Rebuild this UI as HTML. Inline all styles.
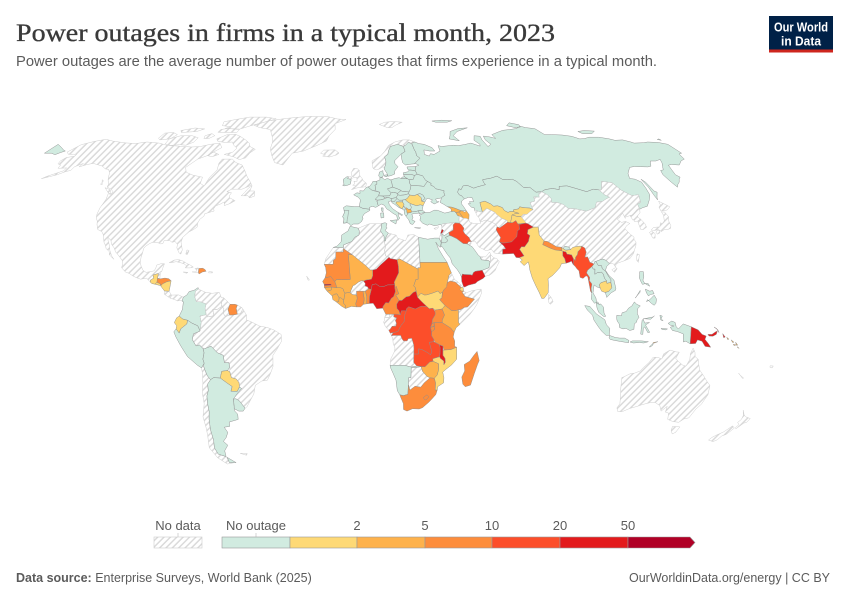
<!DOCTYPE html>
<html><head><meta charset="utf-8"><style>
html,body{margin:0;padding:0;background:#fff;}
svg{display:block;}
</style></head><body>
<svg id="svg" width="850" height="600" viewBox="0 0 850 600" xmlns="http://www.w3.org/2000/svg">
<defs>
<pattern id="h" width="4.5" height="4.5" patternUnits="userSpaceOnUse" patternTransform="rotate(45)">
<rect width="4.5" height="4.5" fill="#fff"/>
<line x1="0.8" y1="0" x2="0.8" y2="4.5" stroke="#d8d8d8" stroke-width="1.4"/>
</pattern>
</defs>
<rect width="850" height="600" fill="#fff"/>
<text x="16" y="41" font-family="Liberation Serif, serif" font-size="25" fill="#3a3a3a" stroke="#3a3a3a" stroke-width="0.35" textLength="539" lengthAdjust="spacingAndGlyphs">Power outages in firms in a typical month, 2023</text>
<text x="16" y="66" font-family="Liberation Sans, sans-serif" font-size="14.5" fill="#5b5b5b" textLength="641" lengthAdjust="spacingAndGlyphs">Power outages are the average number of power outages that firms experience in a typical month.</text>
<rect x="769" y="16" width="64" height="34" fill="#002147"/>
<rect x="769" y="49.5" width="64" height="3" fill="#ce261e"/>
<text x="801" y="31.5" text-anchor="middle" font-family="Liberation Sans, sans-serif" font-size="13" font-weight="bold" fill="#fff" textLength="54" lengthAdjust="spacingAndGlyphs">Our World</text>
<text x="801" y="45.5" text-anchor="middle" font-family="Liberation Sans, sans-serif" font-size="13" font-weight="bold" fill="#fff" textLength="40" lengthAdjust="spacingAndGlyphs">in Data</text>
<g id="map"></g>
<!-- legend -->
<g font-family="Liberation Sans, sans-serif" font-size="13" fill="#5b5b5b" text-anchor="middle">
<text x="178" y="530">No data</text>
<text x="256" y="530">No outage</text>
<text x="357" y="530">2</text>
<text x="425" y="530">5</text>
<text x="492" y="530">10</text>
<text x="560" y="530">20</text>
<text x="628" y="530">50</text>
</g>
<line x1="178" y1="533" x2="178" y2="537" stroke="#ccc" stroke-width="0.8"/>
<line x1="256" y1="533" x2="256" y2="537" stroke="#ccc" stroke-width="0.8"/>
<rect x="154" y="537" width="48" height="11" fill="url(#h)" stroke="#ccc" stroke-width="0.6"/>
<g stroke="#999" stroke-width="0.6">
<rect x="222" y="537" width="68" height="11" fill="#d1ebe0"/>
<rect x="290" y="537" width="67" height="11" fill="#fed976"/>
<rect x="357" y="537" width="68" height="11" fill="#feb24c"/>
<rect x="425" y="537" width="67" height="11" fill="#fd8d3c"/>
<rect x="492" y="537" width="68" height="11" fill="#fc4e2a"/>
<rect x="560" y="537" width="68" height="11" fill="#e31a1c"/>
<polygon points="628,537 690,537 695,542.5 690,548 628,548" fill="#b10026"/>
</g>
<text x="16" y="582" font-family="Liberation Sans, sans-serif" font-size="12.5" fill="#5b5b5b"><tspan font-weight="bold">Data source:</tspan> Enterprise Surveys, World Bank (2025)</text>
<text x="830" y="582" text-anchor="end" font-family="Liberation Sans, sans-serif" font-size="12.5" fill="#5b5b5b">OurWorldinData.org/energy | CC BY</text>
</svg>
<script>
(function(){
var T=[[1,0],[.9986,.062],[.9954,.124],[.99,.186],[.9822,.248],[.973,.31],[.96,.372],[.9427,.434],[.9216,.4958],[.8962,.5571],[.8679,.6176],[.835,.6769],[.7986,.7346],[.7597,.7903],[.7186,.8435],[.6732,.8936],[.6213,.9394],[.5722,.9761],[.5322,1]];
function P(lon,lat){var a=Math.abs(lat);var i=Math.min(Math.floor(a/5),17);var f=(a-i*5)/5;
var X=T[i][0]+(T[i+1][0]-T[i][0])*f,Y=T[i][1]+(T[i+1][1]-T[i][1])*f;
return [363+2.33*X*lon,320-(lat<0?-1:1)*211*Y];}
var G='#d1ebe0',Y1='#fed976',Y2='#feb24c',O='#fd8d3c',R1='#fc4e2a',R2='#e31a1c',R3='#b10026',H='H';
var D=[
// North America (no data)
[H,[[[-168,65.5],[-166,68.8],[-161,70.3],[-156,71.3],[-150,70.4],[-141,69.6],[-135,69.3],[-129,70],[-121,69.5],[-115,68.5],[-108,68.2],[-100,67.8],[-95,68],[-90,69],[-85,69.5],[-82,67.5],[-85,65.5],[-87,64],[-91,62.5],[-94.5,59],[-92.5,57],[-88,55.8],[-82.5,55],[-82,52.5],[-79.5,51.5],[-78.8,55],[-77,58],[-78,60.8],[-77.5,62.5],[-72,62.5],[-69,61],[-65,60],[-62,57.5],[-60,55.5],[-57,53],[-55.8,51.8],[-57,51.4],[-60,50.2],[-65,50.2],[-67,49.3],[-64.5,48.8],[-65,47.8],[-64.8,46.9],[-61.5,45.7],[-63.5,44.6],[-66,43.8],[-66.5,45.2],[-68,44.4],[-70,43.7],[-70.6,42.6],[-70,41.7],[-71.5,41.3],[-74,40.6],[-74,39.7],[-75.5,38.5],[-76,37],[-75.7,35.5],[-77,34.6],[-78.8,33.7],[-81,31.7],[-81.3,29.8],[-80.1,26.8],[-80.4,25.2],[-81.3,25.7],[-82.7,27.6],[-82.7,28.9],[-84,30],[-85.3,29.7],[-86.5,30.4],[-89,30.4],[-89.3,29.2],[-90.2,29.1],[-91.5,29.5],[-93.8,29.7],[-95,29.3],[-96.6,28.3],[-97.4,27.3],[-97.4,25.8],[-97.7,24],[-97.7,22],[-97,20.5],[-96,19],[-94.5,18.2],[-92,18.6],[-91,18.8],[-90.5,20],[-90.3,21],[-88.5,21.5],[-87,21.5],[-87.5,19.8],[-87.8,18.4],[-88.3,18.5],[-89.1,17.8],[-91.4,17.2],[-90.9,16],[-92.2,15.2],[-92.2,14.5],[-94,16],[-96.5,15.6],[-98.5,16.2],[-100,16.8],[-101.8,17.8],[-103.5,18.3],[-105.5,20],[-105.3,21.5],[-105.7,22.7],[-106.9,23.9],[-108.5,25.3],[-109.4,26],[-110.5,27.5],[-112.2,29],[-112.8,30.3],[-114.7,31.7],[-114.2,30.5],[-113.1,28.8],[-112.1,26.5],[-110.6,24.3],[-109.5,23.2],[-110.1,23.6],[-111.9,25],[-112.3,26.2],[-114,27.3],[-114.6,28.4],[-115.7,29.7],[-116.7,31.6],[-117.1,32.5],[-118.4,33.8],[-120.6,34.6],[-121.9,36.5],[-122.5,37.8],[-123.7,39],[-124.2,40.5],[-124.5,42.8],[-124,46.2],[-124.7,48.4],[-123,48.2],[-123,49.2],[-125,50.3],[-127.5,51],[-128,52.2],[-130,54],[-131,55.2],[-132.3,56.8],[-134.5,58.2],[-136.5,58.4],[-139.7,59.6],[-142.5,60.1],[-146,60.7],[-148.5,60.2],[-151.5,59.2],[-151.3,60.7],[-154,59.3],[-154,57.8],[-156,57.3],[-158.5,56],[-161.5,55.2],[-164.5,54.4],[-163,55.3],[-160,56.6],[-157.5,57.6],[-157.5,58.8],[-160.5,58.7],[-162,58.7],[-162.5,60],[-164.7,60.5],[-165.4,61.7],[-165,62.6],[-164.5,63.2],[-161,63.7],[-161,64.5],[-163,64.6],[-165.5,64.5]],
 [[-80,73.7],[-76,72.7],[-71,71],[-67.5,69.5],[-66,68],[-62,66.7],[-64,65.2],[-65,63],[-68,62.3],[-72,63.5],[-78,64.5],[-74,65.5],[-73,67.3],[-76,68.6],[-78,70],[-82,69.8],[-87,70.3],[-89,71.5],[-85,73.4]],
 [[-118,71.5],[-113,73],[-106,73],[-101,72],[-101,70],[-104,68.6],[-108,68.8],[-113,68.5],[-117,69.2]],
 [[-125,71.8],[-125,74.2],[-120,74.5],[-116,73.5],[-117.5,71.5],[-123,71]],
 [[-90,76.5],[-80,76.2],[-75,78],[-72,78.8],[-65,80.5],[-62,82],[-70,83],[-82,83],[-90,81.5],[-96,80],[-94,78],[-88,77.5]],
 [[-92,74.6],[-84,74.5],[-80,74.5],[-80,76],[-88,76.6],[-92,76]],
 [[-98,73],[-95,74],[-92,73],[-94,71.7],[-97,71.6]],
 [[-117,75.5],[-110,76.8],[-103,76.3],[-106,75],[-115,74.5]],
 [[-87,64],[-85,65.5],[-81,64.5],[-84,63.5]],
 [[-59.3,47.6],[-58,49],[-57,50.5],[-55.5,51.6],[-55.8,49.5],[-53.5,49.5],[-52.8,47.5],[-55,46.8],[-56,47.6]],
 [[-128.3,50.8],[-125,50],[-123.3,48.4],[-125,48.8]],
 [[-133,54],[-131.8,53.5],[-132,52.2],[-131,52]]
]],
// Greenland
[H,[[[-73,78.2],[-66,80.5],[-55,82.2],[-40,83.5],[-25,83.2],[-18,81.8],[-12,81.5],[-19,79],[-18,76],[-21,73],[-22,70.5],[-27,68.5],[-34,66],[-40,65],[-43,60],[-48,61],[-51,64],[-53.5,67],[-54,70],[-56,72.5],[-60,76],[-68,77]]]],
// Iceland, Svalbard
[H,[[[-22.5,63.8],[-21,64.3],[-24,65],[-22.5,66.4],[-16,66.5],[-13.6,65.1],[-14.8,64.3],[-18.7,63.4]],
 [[11,78.6],[15,79.8],[21,80.2],[27,79.8],[22,78.3],[19,77],[16,77],[13,78]]]],
// Caribbean no data
[H,[[[-85,21.9],[-83,22.9],[-81,23.1],[-79,22.5],[-77.2,21.6],[-75.6,21],[-74.2,20.2],[-75.5,19.9],[-77.7,19.9],[-77.2,20.7],[-78.5,21.5],[-80.5,22],[-82,22.3],[-83.5,22]],
 [[-74.5,18.4],[-72.8,18.4],[-72.7,19.2],[-73.4,19.7],[-72,19.9],[-71.7,19.7],[-71.7,18.2],[-72,18.1]],
 [[-78.3,18.4],[-76.3,18.2],[-76.8,17.9],[-78.2,18.2]],
 [[-67.2,18.5],[-65.6,18.4],[-65.6,18],[-67.2,18]],
 [[-78,26.8],[-77,26.5],[-77.5,25],[-78.2,25.2]],
 [[-89.1,17.8],[-88.3,18.5],[-88.2,16],[-89.2,15.9]],
 [[-85.7,11.1],[-83.7,11],[-82.6,9.5],[-83,8.3],[-85.7,9.9]],
 [[-82.9,8.3],[-82.6,9.5],[-79.5,9.6],[-77.4,8.7],[-77.2,7.9],[-78,7.5],[-80,7.3],[-81,7.8]]]],
[O,[[[-71.7,19.7],[-70,19.8],[-69,19.3],[-68.4,18.6],[-69.9,18.4],[-71.4,17.6],[-71.7,18.2]]]],
[Y1,[[[-92.2,14.5],[-92.2,15.2],[-90.9,16],[-91.4,17.2],[-89.1,17.8],[-89.2,15.9],[-88.2,15.7],[-89.3,14.4],[-90.1,13.7],[-91.4,13.9]]]],
[O,[[[-89.2,15.9],[-88.2,15.7],[-86,16],[-84.3,15.8],[-83.2,15],[-85,14.6],[-86.8,13.8],[-87.5,13],[-87.7,13.8],[-89.3,14.4]]]],
[Y1,[[[-89.3,14.4],[-87.7,13.8],[-87.8,13.2],[-90.1,13.7]]]],
[Y1,[[[-87.5,13],[-86.8,13.8],[-85,14.6],[-83.2,15],[-83.5,12.5],[-83.7,11],[-85.7,11.1]]]],
// South America
[G,[[[-77.4,8.7],[-76,9.5],[-75,10.9],[-73,11.3],[-71.3,12.4],[-71.1,11.8],[-72.3,11],[-72.5,9],[-71.7,7],[-70,7],[-67.5,6.2],[-67.8,4.5],[-67.3,2],[-70,1.5],[-69.4,-0.9],[-70,-4.2],[-71,-2.2],[-73.5,-1.2],[-75.3,-0.1],[-77.4,0.4],[-78.9,1.5],[-77.6,4],[-77.3,7],[-77.9,7.2]]]],
[H,[[[-71.1,11.8],[-68,10.6],[-65,10.2],[-62,10.6],[-61,8.5],[-60,8.5],[-60.7,7.5],[-61,5.9],[-60.7,5.2],[-62.7,4],[-64.6,4.1],[-64,1.6],[-66.8,1.2],[-67.3,2],[-67.8,4.5],[-67.5,6.2],[-70,7],[-71.7,7],[-72.5,9],[-72.3,11]],
 [[-60,8.5],[-58,6.8],[-57.2,6],[-58,4],[-57.3,1.9],[-59,1.3],[-60,2.5],[-59.8,4.3],[-61,5.9],[-60.7,7.5]],
 [[-54,5.7],[-52,4.7],[-51.6,4.2],[-52.7,2.4],[-54,2.2],[-54.5,4.5]],
 [[-51.6,4.2],[-50,1.8],[-50,0],[-48,-0.7],[-44.5,-2.3],[-41,-2.9],[-38.5,-3.7],[-35.2,-5.5],[-35,-8],[-37,-11],[-39,-13.5],[-39.2,-17.8],[-40.5,-20.5],[-42,-23],[-44.5,-23.3],[-47.5,-25],[-48.6,-28.3],[-50.7,-31],[-52.5,-33.2],[-53.4,-33.7],[-55.5,-30.9],[-56.8,-30.1],[-58,-30.2],[-55.8,-28],[-53.7,-26.2],[-54.6,-25.6],[-54.6,-23.9],[-55.7,-22.5],[-57.7,-22],[-58.2,-19.8],[-58,-18],[-58.3,-16.3],[-60.2,-16.3],[-60.5,-13.5],[-63,-12.5],[-65.5,-10],[-68.5,-11],[-70.5,-9.5],[-72,-9.9],[-73.5,-7.5],[-72.9,-5.3],[-70,-4.2],[-69.4,-0.9],[-70,1.5],[-67.3,2],[-66.8,1.2],[-64,1.6],[-64.6,4.1],[-62.7,4],[-60.7,5.2],[-59.8,4.3],[-60,2.5],[-59,1.3],[-57.3,1.9],[-56,1.9],[-54,2.2],[-52.7,2.4]],
 [[-70.4,-18.3],[-69.4,-17.5],[-69,-19],[-68.2,-21.3],[-67,-22.8],[-68.5,-24.5],[-68.6,-27],[-69.6,-29],[-70,-32],[-70,-35],[-71,-38],[-71.8,-42],[-72,-46],[-73,-49],[-72.4,-51.5],[-69,-52.5],[-68.6,-54.8],[-66.5,-55],[-70,-55.5],[-73.5,-53],[-75.5,-49],[-74,-44],[-73.5,-41],[-73.5,-37],[-71.5,-32],[-71.4,-28],[-70.5,-24],[-70.2,-20]],
 [[-61.3,-51.2],[-57.8,-51.3],[-58.5,-52]]]],
[O,[[[-57.2,6],[-55,6],[-54,5.7],[-54.5,4.5],[-54,2.2],[-56,1.9],[-57.3,1.9],[-58,4]]]],
[Y1,[[[-78.9,1.5],[-77.4,0.4],[-75.3,-0.1],[-75.6,-1.5],[-78.3,-3.4],[-79,-5],[-80.3,-3.4],[-80,-2.2],[-81,-1],[-80,0.8]]]],
[G,[[[-75.3,-0.1],[-73.5,-1.2],[-71,-2.2],[-70,-4.2],[-72.9,-5.3],[-73.5,-7.5],[-72,-9.9],[-70.5,-9.5],[-69,-11],[-68.7,-12.5],[-69.4,-15],[-69,-16.5],[-70.4,-18.3],[-72,-17.3],[-76,-14],[-78.5,-10],[-80.5,-6.5],[-81.3,-4.5],[-80.3,-3.4],[-79,-5],[-78.3,-3.4],[-75.6,-1.5]]]],
[G,[[[-69,-11],[-68.5,-11],[-65.5,-10],[-63,-12.5],[-60.5,-13.5],[-60.2,-16.3],[-58.3,-16.3],[-58,-18],[-59.1,-19.3],[-61.7,-19.6],[-62.6,-22.2],[-65.5,-22],[-67,-22.8],[-68.2,-21.3],[-69,-19],[-69.4,-17.5],[-69,-16.5],[-69.4,-15],[-68.7,-12.5]]]],
[Y1,[[[-59.1,-19.3],[-58.2,-19.8],[-57.7,-22],[-55.7,-22.5],[-54.6,-23.9],[-54.6,-25.6],[-55.8,-27.3],[-58.6,-27.2],[-57.8,-25.4],[-60,-24],[-62.6,-22.2],[-61.7,-19.6]]]],
[G,[[[-65.5,-22],[-62.6,-22.2],[-60,-24],[-57.8,-25.4],[-58.6,-27.2],[-55.8,-27.3],[-54.6,-25.6],[-53.7,-26.2],[-55.8,-28],[-58,-30.2],[-58.2,-33],[-58.5,-34.6],[-57.3,-36],[-57.6,-38],[-62,-39],[-62.3,-40.7],[-65,-41],[-64,-43],[-65.5,-45],[-67.5,-46.5],[-66,-48],[-68.5,-50.2],[-69,-52.5],[-72.4,-51.5],[-73,-49],[-72,-46],[-71.8,-42],[-71,-38],[-70,-35],[-70,-32],[-69.6,-29],[-68.6,-27],[-68.5,-24.5],[-67,-22.8]],
 [[-68.6,-52.8],[-68.6,-54.9],[-65.2,-54.9],[-67.5,-53.5]]]],
[G,[[[-58,-30.2],[-56.8,-30.1],[-55.5,-30.9],[-53.4,-33.7],[-54.5,-34.8],[-56.5,-34.8],[-58.4,-33.9],[-58.2,-33]]]],
// Europe
[H,[[[-5.7,50],[-3,50.7],[1.4,51.2],[1.7,52.6],[0.2,53.5],[-0.5,54.5],[-1.6,55.6],[-2.1,57.5],[-1.8,57.6],[-3.1,58.6],[-5,58.6],[-6.2,56.8],[-5.6,55.3],[-4.8,54.8],[-3.2,54.9],[-3,53.4],[-4.6,53.3],[-4.2,52.3],[-5.2,51.8],[-3.5,51.4],[-4.8,50.8]],
 [[-6,55.2],[-7.3,55.1],[-8,54.5],[-6.3,54.1],[-5.5,54.4]],
 [[5.5,58.5],[7,58],[8.5,58.3],[10.5,59.2],[11.5,59],[12.3,60.5],[12.5,61.5],[12,63.5],[14,64.5],[14.5,66],[16,68],[18,68.5],[20.5,69],[22,68.5],[25,68.6],[27,69.9],[29,69.5],[31,70],[28,71],[24,71],[19,70],[15,68.5],[12.5,66],[10,64],[7,62.7],[5,61.8],[5,59.5]],
 [[32.3,35],[34.6,35.7],[33.9,34.9],[32.8,34.6]]]],
[G,[[[-6,53.9],[-6.3,54.1],[-8,54.5],[-7.3,55.1],[-8.3,55.2],[-10,54.2],[-10,53.3],[-9.5,52],[-10.3,51.8],[-9.5,51.5],[-8,51.7],[-6.4,52.2]]]],
[G,[[[-9.3,43],[-8,43.7],[-4,43.4],[-1.8,43.4],[0,42.7],[3.2,42.4],[3.2,41.9],[0.7,40.7],[-0.3,39.5],[0,38.8],[-0.7,37.6],[-2.1,36.7],[-4.4,36.7],[-5.6,36],[-6.4,36.9],[-7.4,37.2],[-9,37],[-8.8,38.7],[-9.5,39.5],[-8.7,41],[-8.9,42]]]],
[G,[[[-8.9,42],[-8.1,41.8],[-6.6,41.9],[-6.9,41],[-7,39.6],[-7.3,38.5],[-7.4,37.2],[-9,37],[-8.8,38.7],[-9.5,39.5],[-8.7,41]]]],
[G,[[[-1.8,43.4],[-1.2,46],[-2.3,47],[-4.6,48],[-3,48.8],[-1.4,48.6],[-1.6,49.6],[0.2,49.5],[1.6,50.9],[2.5,51.1],[4.2,49.9],[5.8,49.5],[8.2,49],[7.6,47.6],[6,46.3],[6.8,45.2],[7,44.2],[7.5,43.8],[6,43.1],[4.5,43.5],[3,43.1],[3.2,42.4],[0,42.7]],[[8.6,42.9],[9.5,42.9],[9.4,41.4],[8.8,41.6]]]],
[G,[[[2.5,51.1],[3.4,51.4],[4.5,52.5],[5,53.3],[7,53.4],[7,52.2],[6,51.8],[6.2,50.8],[6.1,50.1],[5.8,49.5],[4.2,49.9]]]],
[G,[[[7,53.4],[8.6,53.9],[8.7,55],[10,54.7],[11,54],[12.5,54.5],[14.2,53.9],[14.6,52.6],[14.8,51],[12.1,50.3],[13.8,48.8],[13,47.6],[10,47.5],[7.6,47.6],[8.2,49],[6.4,49.5],[6.1,50.1],[6.2,50.8],[6,51.8],[7,52.2]]]],
[G,[[[8.1,55.5],[8.6,57.1],[10.5,57.7],[10.4,56.6],[10.9,56.3],[10,55],[8.7,55]],[[11,55.8],[12.6,56],[12.4,55.2],[11.3,55.2]]]],
[G,[[[6,46.3],[7.6,47.6],[9.6,47.5],[10.5,46.9],[10,46.3],[8.4,46],[7,45.9]]]],
[G,[[[9.6,47.5],[13,47.6],[13.8,48.8],[15,49],[16.9,48.6],[17,48],[16.1,46.9],[13.7,46.5],[12.1,47],[10.5,46.9]]]],
[G,[[[6.8,45.2],[7,45.9],[8.4,46],[10,46.3],[12.1,47],[13.7,46.5],[13.6,45.7],[12.3,45.3],[12.5,44.2],[14,42.6],[16,41.4],[18.5,40.2],[18,39.9],[16.5,40.8],[16.5,39.7],[17.1,39],[16,38],[15.7,40],[14,40.8],[12.5,41.8],[11.2,42.5],[10.2,43.9],[8.7,44.4],[7.5,43.8],[7,44.2]],
 [[12.5,38],[15.6,38.3],[15.1,36.7]],[[8.4,39],[9.7,39.2],[9.7,41],[8.2,40.9]]]],
[G,[[[11.5,59],[11.2,58.4],[12.6,56.4],[12.9,55.4],[14.4,55.6],[16.5,56.3],[16.6,57.5],[18.7,59.3],[17.2,60.7],[17.4,61.9],[21.4,64.6],[24,65.8],[23.8,66.7],[23.5,68],[20.5,69],[18,68.5],[16,68],[14.5,66],[14,64.5],[12,63.5],[12.5,61.5],[12.3,60.5]]]],
[G,[[[24,65.8],[21.4,64.6],[21.3,63],[21.5,61],[22.8,60],[26,60.4],[27.8,60.5],[29.5,61.6],[31.5,62.9],[30,64],[30,65.5],[29.5,66.5],[29,69],[28,69.5],[27,69.9],[25,68.6],[23.5,68],[23.8,66.7]]]],
[G,[[[23.5,59.2],[28,59.4],[27.5,57.6],[25.3,57.9],[24.3,57.9],[23.5,58.4]]]],
[G,[[[21,56.8],[23.5,57.2],[24.3,57.9],[25.3,57.9],[27.5,57.6],[28.2,56.2],[26.6,55.7],[25,56.2],[21,56.1]]]],
[G,[[[21,56.1],[25,56.2],[26.6,55.7],[25.8,54.2],[23.5,54],[22.7,54.4],[21.3,55.2]]]],
[G,[[[19.7,54.4],[22.7,54.4],[21.3,55.2],[20,55]]]],
[G,[[[23.5,54],[25.8,54.2],[26.6,55.7],[28.2,56.2],[30.8,55.6],[31.8,53.8],[32.7,53.3],[31.3,52.1],[30.5,51.3],[27.4,51.6],[24,51.6],[23.5,52.6]]]],
[G,[[[14.2,53.9],[16.5,54.5],[18.6,54.8],[19.7,54.4],[22.7,54.4],[23.5,54],[23.5,52.6],[24,51.6],[23.6,50.4],[22.6,49.1],[19,49.4],[18.8,49.7],[16.9,50.4],[14.8,51],[14.6,52.6]]]],
[G,[[[12.1,50.3],[14.8,51],[16.9,50.4],[18.8,49.7],[17,48.6],[15,49],[13.8,48.8]]]],
[G,[[[17,48.6],[18.8,49.7],[19,49.4],[22.6,49.1],[22.2,48.4],[20,47.9],[18,47.8],[17,48]]]],
[G,[[[16.1,46.9],[17,48],[18,47.8],[20,47.9],[22.2,48.4],[22.9,47.9],[21.3,46.5],[20.3,46.1],[18.9,45.9],[17.3,45.9],[16.5,46.5]]]],
[G,[[[13.6,45.5],[13.7,46.5],[16.1,46.9],[16.5,46.5],[15.5,45.8],[15.2,45.4]]]],
[G,[[[13.6,45.5],[15.2,45.4],[15.5,45.8],[16.5,46.5],[17.3,45.9],[18.9,45.9],[19,45.2],[16,45.2],[15.8,44.7],[17.6,43],[18.5,42.5],[17,43],[15.2,44.2],[14,44.8]]]],
[Y1,[[[16,45.2],[19,45.2],[19.6,44.1],[19.2,43.5],[18.5,42.5],[17.6,43],[15.8,44.7]]]],
[G,[[[19,45.2],[18.9,45.9],[20.3,46.1],[21.5,45.2],[22.7,44.5],[22.4,44],[23,43.2],[22.5,42.4],[21.5,42.3],[20.6,42.9],[19.2,43.5],[19.6,44.1]]]],
[G,[[[18.5,42.5],[19.2,43.5],[20.1,42.6],[19.4,41.9]]]],
[G,[[[19.4,41.9],[20.1,42.6],[20.6,42],[20.6,41.1],[20.9,40.5],[20,39.7],[19.3,40.6]]]],
[Y2,[[[20.6,41.1],[20.6,42],[20.1,42.6],[20.6,42.9],[21.5,42.3],[22.5,42.4],[23,41.4],[22.5,41.1],[21,40.9]]]],
[Y1,[[[20.3,46.1],[21.3,46.5],[22.9,47.9],[24.9,47.7],[26.6,48.2],[28.2,46.9],[28.2,45.5],[29.7,45.2],[28.6,43.8],[27.3,44.1],[25.5,43.7],[22.7,44.5],[21.5,45.2]]]],
[G,[[[26.6,48.2],[27.8,48.5],[29.2,47.9],[30,46.5],[28.2,45.5],[28.2,46.9]]]],
[G,[[[22.7,44.5],[25.5,43.7],[27.3,44.1],[28.6,43.8],[27.9,42],[26.1,41.8],[25,41.5],[22.9,41.3],[22.5,42.4],[23,43.2],[22.4,44]]]],
[G,[[[20,39.7],[20.9,40.5],[21,40.9],[22.5,41.1],[23,41.4],[25,41.5],[26.1,41.8],[26.3,40.9],[24,40.7],[22.8,40.5],[23.2,39.2],[22.6,38.3],[24,37.7],[22.8,36.5],[21.7,36.8],[21.1,38.3],[20.2,39.4]],[[23.5,35.3],[26.3,35.2],[25.7,35],[24,35.2]]]],
[G,[[[22.2,48.4],[22.6,49.1],[23.6,50.4],[24,51.6],[27.4,51.6],[30.5,51.3],[31.3,52.1],[32.7,53.3],[34.4,52.5],[34,51.8],[35.3,51.3],[36,50.4],[38,50],[40,49.6],[39.7,48.8],[40,47.8],[38.8,47.3],[38,46.8],[35,46.3],[35.5,45.3],[36.5,45.3],[34,44.4],[32.5,45.3],[33.5,46],[31.5,46.6],[30.7,46.4],[29.7,45.2],[28.2,45.5],[30,46.5],[29.2,47.9],[27.8,48.5],[26.6,48.2],[24.9,47.7],[22.9,47.9]]]],
[G,[[[26.1,41.8],[28,42],[29.1,41.2],[27.5,40.9],[26.3,40.6],[26.3,40.9]],
 [[26.2,40.1],[27.3,40.4],[29,41.1],[31.2,41.1],[33.5,42],[35,42],[38.3,40.9],[41.5,41.5],[42.8,41.6],[43.6,40.9],[44,40],[44.8,39.7],[44.4,38.3],[44.3,37],[42.3,37.1],[40.7,37.1],[38.2,36.9],[36.7,36.8],[36.2,36.6],[36,36],[35.5,36.6],[34,36.2],[32.5,36.1],[30.6,36.7],[29.5,36.2],[27.4,37],[26.3,38.2],[26.8,39.5]]]],
[Y2,[[[40,43.4],[42,43.2],[43.8,42.7],[45.7,42],[46.5,41.8],[45,41.3],[43.5,41.1],[42.8,41.6],[41.5,41.5],[41.6,42.6]]]],
[Y2,[[[43.5,41.1],[45,41.3],[45.5,40.6],[46.5,38.9],[44.8,39.7],[44,40]]]],
[Y2,[[[45,41.3],[46.5,41.8],[47.8,41.2],[48.6,41.8],[49.5,40.3],[48.9,38.4],[48,38.8],[46.5,38.9],[45.5,40.6]]]],
// Russia
[G,[[[29,69.5],[31,70],[33,69.3],[36,69],[40,67.5],[41,66],[38,66],[35,66.5],[34.5,64.5],[37,63.8],[38,64.8],[40,64.5],[44,66],[44,68.4],[46,68],[53,68.6],[56,68.4],[60,68.9],[64,69.5],[68.5,68.2],[69,69],[67,70.8],[69,73],[72.5,72.7],[72,71],[73,68],[75.5,69],[74,71],[74.5,72.8],[78,72.4],[81,71.7],[80.5,73.5],[87,75],[90,75.6],[95,76],[100,76.5],[104.5,77.7],[107,77],[112,76.4],[113.5,73.5],[118,73.5],[124,73.3],[129,72.7],[132,71.5],[135,71.6],[139,72.3],[145,72.3],[150,71.5],[152,70.8],[157,71],[160,70],[161,69.5],[167,69.7],[170,70],[176,69.8],[180,69],[180,65],[178,64.7],[177,62.5],[174,61.8],[170,60],[166,60.2],[164,59.9],[163,58],[162,56],[163,55],[161.5,54.2],[160,53],[158,52],[156.7,51],[156,53],[155.5,56],[156.8,57.8],[158.5,58],[160,59.3],[162,60.8],[163.5,62.4],[160,61.7],[157,61.7],[154,59.5],[152,59.2],[148,59.3],[145,59.4],[142,59],[138,56.5],[136.5,54.5],[139,54.2],[141,53],[140.5,50.5],[140,48],[138,46],[135,43.5],[132.5,43],[131,42.5],[130.6,42.4],[131,44.5],[133,45],[134.5,48],[131,47.7],[127.5,49.8],[125.8,52.8],[121,53.3],[118,50],[116.6,49.9],[114,50.2],[110,49.2],[106,50.4],[102,51.5],[98,51.3],[97,50],[94,50.5],[90,50],[87.8,49.2],[85,49],[83,51],[80,50.8],[77.9,53.3],[76.2,54.2],[73.5,54],[71.2,54.1],[69,55.4],[65.5,54.6],[61,54],[61,53],[61.5,52],[60,51.7],[57,51.1],[55,50.6],[52.3,51.7],[50,51.5],[48.5,50],[47.5,50.4],[46.5,49],[47,48],[48,47.7],[49,46.4],[47.5,45.6],[47,44.5],[47.6,43.6],[48.6,41.8],[46.5,41.8],[45.7,42],[43.8,42.7],[42,43.2],[40,43.4],[38.5,44.3],[37,45],[38,46.8],[38.8,47.3],[40,47.8],[39.7,48.8],[40,49.6],[38,50],[36,50.4],[35.3,51.3],[34,51.8],[34.4,52.5],[32.7,53.3],[31.8,53.8],[30.8,55.6],[28.2,56.2],[27.5,57.6],[28,59.4],[30,59.9],[28.5,60.6],[27.8,60.5],[29.5,61.6],[31.5,62.9],[30,64],[30,65.5],[29.5,66.5],[29,69]],
 [[52.5,71.5],[58,70.6],[56,73],[60,75],[68.5,76.9],[62,76.5],[55.5,75],[54,73]],
 [[96,78],[100,79.5],[105,78.5],[104,77.3],[100,77]],
 [[137,75],[142,75.5],[148,75.2],[144,74],[138,74]],
 [[142,54.2],[143,53],[143.5,49.5],[144.5,49],[142.6,47],[142,46],[141.9,48],[142.2,51]],
 [[48,80.5],[55,81],[62,80.7],[58,79.8],[50,79.8]],
 [[178.5,71.2],[180,71.5],[180,70.8]],
 [[-180,69],[-175,67.5],[-172,66.5],[-170,66],[-171.5,65.3],[-173,64.4],[-176,65],[-180,65]]]],
[G,[[[46.5,49],[47.5,50.4],[48.5,50],[50,51.5],[52.3,51.7],[55,50.6],[57,51.1],[60,51.7],[61.5,52],[61,53],[61,54],[65.5,54.6],[69,55.4],[71.2,54.1],[73.5,54],[76.2,54.2],[77.9,53.3],[80,50.8],[83,51],[85,49],[87.8,49.2],[86,48.4],[85.5,47],[83,47.2],[82.5,45.5],[80,45],[80.2,42.2],[79,42.8],[76,43],[74.3,43.3],[73.5,42.5],[71,42.2],[70.5,41.5],[69,41.5],[68,41.1],[66.5,41.9],[66,43],[64,43.7],[62,43.5],[61,44.4],[58.5,45.5],[56,45],[56,41.3],[55,41.3],[53,42],[52.5,41.8],[52.8,42.8],[51.3,43.2],[50.2,44.5],[51.3,44.6],[51,45.3],[53,45.3],[53,46.8],[51.2,47],[49,46.4],[48,47.7],[47,48]]]],
[Y1,[[[56,41.3],[56,45],[58.5,45.5],[61,44.4],[62,43.5],[64,43.7],[66,43],[66.5,41.9],[68,41.1],[69,41.5],[70.5,41.5],[73,40.8],[71,40.6],[69.5,40.2],[68.4,38.2],[67.8,37.2],[66.5,37.4],[66.5,38],[64.2,38.9],[62.2,40.5],[61.9,41.1],[60.1,42],[58.5,42.7]]]],
[H,[[[52.5,41.8],[53,42],[55,41.3],[56,41.3],[58.5,42.7],[60.1,42],[61.9,41.1],[62.2,40.5],[64.2,38.9],[66.5,38],[66.5,37.4],[64.5,36.3],[62.3,35.2],[61.2,35.6],[61,36.5],[59,37.5],[56.5,38.2],[54,37.4],[53.8,39],[53,40],[52.8,41]]]],
[Y1,[[[70.5,41.5],[71,42.2],[73.5,42.5],[74.3,43.3],[76,43],[79,42.8],[80.2,42.2],[78.5,41.5],[76.5,40.4],[74.8,40.4],[73.5,39.5],[71.5,39.6],[69.5,40.2],[71,40.6],[73,40.8]]]],
[Y1,[[[67.8,37.2],[68.4,38.2],[69.5,40.2],[71.5,39.6],[73.5,39.5],[75,37.2],[74.5,37],[72.5,36.8],[71,36.7],[70.5,38],[68.8,37.2]]]],
[G,[[[87.8,49.2],[90,50],[94,50.5],[97,50],[98,51.3],[102,51.5],[106,50.4],[110,49.2],[114,50.2],[116.6,49.9],[118,48],[119.7,47],[117.8,46.5],[115,45.4],[111.9,45.1],[110,43],[105,41.6],[100,42.6],[97,42.7],[95.5,44.2],[93,45],[90.3,45],[91,46.5],[90,48]]]],
// China, Koreas, Japan, Taiwan, Iran, Sri Lanka etc.
[H,[[[73.5,39.5],[74.8,40.4],[76.5,40.4],[78.5,41.5],[80.2,42.2],[80,45],[82.5,45.5],[83,47.2],[85.5,47],[86,48.4],[87.8,49.2],[90,48],[91,46.5],[90.3,45],[93,45],[95.5,44.2],[97,42.7],[100,42.6],[105,41.6],[110,43],[111.9,45.1],[115,45.4],[117.8,46.5],[119.7,47],[118,48],[116.6,49.9],[118,50],[121,53.3],[125.8,52.8],[127.5,49.8],[131,47.7],[134.5,48],[133,45],[131,44.5],[130.6,42.4],[129.5,42.4],[128,41.5],[126,40.2],[124.3,39.9],[122,39.4],[121.5,38.8],[121.5,40.8],[120,40],[119,39.2],[118,38.8],[117.7,38.4],[118.9,37.3],[121,37.7],[122.5,36.9],[120.5,36],[119.2,34.9],[120.5,33],[121.9,31.7],[121.5,30.8],[122,29.8],[121.5,28.5],[120.5,27],[119.5,25.5],[117.5,23.6],[115,22.7],[113.5,22.3],[111,21.5],[110.4,20.3],[109.7,21.5],[108,21.5],[106.7,22.8],[105.3,23.3],[103.5,22.8],[102.2,22.4],[101.8,22.4],[101.2,21.4],[99.5,22.1],[98.9,24.1],[97.7,24],[98.7,25.9],[98.5,27.5],[97.3,28.2],[96,28.2],[93.3,27.8],[92,26.9],[91.7,27.8],[89.8,28.2],[88.8,27.3],[88.2,27.8],[86,28],[84,29.2],[82.5,30],[81,30.2],[79.5,32.5],[80,35.5],[77.8,35.5],[75.5,36.9],[74.5,37],[75,37.2]],
 [[108.6,19.2],[110.5,20.1],[111,19.6],[109.6,18.2]],
 [[124.3,39.9],[126,40.2],[128,41.5],[129.5,42.4],[130.6,42.4],[129.7,41],[128,40],[127.5,39.3],[128.4,38.6],[126.7,37.8],[125,37.7],[125.4,38.6],[124.7,38.1]],
 [[126.7,37.8],[128.4,38.6],[129.4,36.8],[129.4,35.5],[127.5,34.6],[126.3,34.6],[126.5,36.8]],
 [[130.9,34.4],[132.5,35.4],[135.5,35.6],[136.8,37.2],[137.3,36.8],[139,37.9],[140,40],[140,41.3],[141.4,41.3],[142,39.5],[141,38.2],[140.8,36],[140,35],[139,34.7],[137,34.6],[135.2,33.8],[134.2,34.7],[132.5,34.2]],
 [[140,41.6],[141.2,41.8],[143.3,42.1],[145.5,43.3],[144.5,44],[142,45.5],[141.6,44],[140.3,43.2]],
 [[129.7,33.5],[131,34],[132,33],[131.2,31.3],[130.2,31.3]],
 [[132.6,33.4],[133.5,34.3],[134.7,34.1],[134.3,33.3],[133,32.8]],
 [[120.1,23],[121,25.3],[121.9,25],[120.8,22]],
 [[79.8,8],[80,9.8],[81.2,8.5],[81.8,7],[80.6,6],[80,6.5]],
 [[44.8,39.7],[46.5,38.9],[48,38.8],[48.9,38.4],[49,37.5],[51,36.8],[53.9,36.9],[54,37.4],[56.5,38.2],[59,37.5],[61,36.5],[61.2,35.6],[60.5,34.5],[60.9,33.5],[61.9,31.5],[60.9,29.9],[62.7,28.3],[63.3,27.2],[61.9,27],[61.6,25.2],[58,25.6],[57,27],[54.5,26.5],[51.5,27.9],[50.1,30.2],[48.6,30],[48,30.5],[47.7,31.5],[46,33],[45.4,34],[46,35.1],[45,36.5],[44.3,37],[44.4,38.3]],
 [[35.9,35.9],[36.2,36.6],[36.7,36.8],[38.2,36.9],[40.7,37.1],[42.3,37.1],[41.3,36.4],[41,34.4],[38.8,33.4],[36.8,32.3],[35.8,32.7],[35.9,33.4],[36.6,34.2],[35.9,34.7]],
 [[34.3,31.3],[35.1,33.1],[35.6,33.1],[35.5,31.5],[35,29.5]],
 [[52,19],[55,20],[55.7,22],[56.4,24.9],[57.5,23.8],[58.8,23.5],[59.8,22.3],[58.5,20.4],[57.7,19],[56.3,17.9],[55.2,17.2],[53.1,16.7]],
 [[51.6,24.2],[54,24.1],[56,26],[56.4,24.9],[55.7,22],[55.2,22.7],[52,23]],
 [[47.7,30],[48.4,29.5],[48,29],[47.5,28.5],[46.5,29.1],[47.1,29.9]]]],
[R1,[[[60.9,29.9],[61.9,31.5],[60.9,33.5],[60.5,34.5],[61.2,35.6],[62.3,35.2],[64.5,36.3],[66.5,37.4],[67.8,37.2],[68.8,37.2],[70.5,38],[71,36.7],[72.5,36.8],[74.5,37],[71.5,36.5],[71.2,34.7],[70,34],[69.3,31.9],[66.5,29.9],[64,29.5],[62.5,29.4]]]],
[R2,[[[61.6,25.2],[61.9,27],[63.3,27.2],[62.7,28.3],[60.9,29.9],[62.5,29.4],[64,29.5],[66.5,29.9],[69.3,31.9],[70,34],[71.2,34.7],[71.5,36.5],[74.5,37],[75.5,36.9],[77.8,35.5],[75,34.5],[74.3,33],[75.3,32.3],[74.5,31],[74,30],[71.8,27.9],[70.5,28],[69.5,27],[71,24.5],[68.8,23.8],[67.4,23.9],[66.5,25.4],[64,25.3]]]],
[Y1,[[[68.8,23.8],[71,24.5],[69.5,27],[70.5,28],[71.8,27.9],[74,30],[74.5,31],[75.3,32.3],[74.3,33],[75,34.5],[77.8,35.5],[80,35.5],[79.5,32.5],[81,30.2],[80.1,28.8],[83.3,27.4],[88.1,26.4],[88.2,27.8],[88.8,27.3],[89.8,26.7],[92,26.9],[93.3,27.8],[96,28.2],[97.3,28.2],[96.6,27.2],[95.1,26.1],[94.6,25],[93.6,24],[93.3,22.7],[92.5,23.5],[92,24.9],[90,25.2],[89.8,26],[88.4,26.3],[88.1,24.5],[88.8,23.4],[88.9,21.7],[87,21.5],[86,20],[84,18.3],[82.4,17],[80.3,15.8],[80.3,13.5],[79.9,10.4],[78,8.3],[77,8.2],[76,10.5],[74.8,13],[73.5,16],[72.8,19],[72.7,21],[72.5,22.2],[70.5,20.8],[69,22.3],[70,22.9]]]],
[O,[[[80.1,28.8],[81,30.2],[82.5,30],[84,29.2],[86,28],[88.2,27.8],[88.1,26.4],[85,26.8],[83.3,27.4]]]],
[G,[[[88.8,27.3],[89.8,28.2],[91.7,27.8],[92,26.9],[89.8,26.7]]]],
[R2,[[[88.1,24.5],[88.4,26.3],[89.8,26],[90,25.2],[92,24.9],[92.5,23.5],[92.3,21],[92,21.3],[91.5,22.5],[90.5,22.1],[89,21.7],[88.8,23.4]]]],
[R1,[[[92.3,21],[92.5,23.5],[93.3,22.7],[93.6,24],[94.6,25],[95.1,26.1],[96.6,27.2],[97.3,28.2],[98.5,27.5],[98.7,25.9],[97.7,24],[98.9,24.1],[99.5,22.1],[101.2,21.4],[100.1,20.4],[98,19],[97.4,18],[98.5,16.3],[98.2,15],[99.1,13.8],[98.6,12],[98.7,10.3],[98.2,11],[97.7,16.5],[97,16.9],[95.5,15.9],[94.3,16.3],[94.2,18.8],[93.5,19.5],[92.8,20.5]]]],
[G,[[[97.4,18],[98,19],[100.1,20.4],[100.5,19.5],[101.3,19.5],[100.9,17.5],[102.1,18.1],[104,18.3],[104.7,17.4],[104.8,16],[105.6,15],[103,14.2],[102.3,13.5],[102.5,12.2],[101,12.7],[100,13.4],[99.2,10.4],[100.3,8.4],[100.6,6.5],[101.8,5.8],[101,6.9],[99.6,6.4],[98.3,8],[98.6,10],[98.7,10.3],[98.6,12],[99.1,13.8],[98.2,15],[98.5,16.3]]]],
[G,[[[100.1,20.4],[101.2,21.4],[101.8,22.4],[102.2,22.4],[103,20.8],[104.4,20.8],[104.5,19.6],[105.8,18.6],[106.6,17],[107.6,15.4],[107.4,14.4],[105.6,14],[105.6,15],[104.8,16],[104.7,17.4],[104,18.3],[102.1,18.1],[100.9,17.5],[101.3,19.5],[100.5,19.5]]]],
[Y1,[[[102.5,12.2],[102.3,13.5],[103,14.2],[105.6,15],[105.6,14],[107.4,14.4],[107.6,12.3],[106,10.9],[104.5,10.5],[103,11]]]],
[G,[[[102.2,22.4],[103.5,22.8],[105.3,23.3],[106.7,22.8],[108,21.5],[106.6,20.5],[105.8,19],[107,17],[108.8,15.3],[109.3,12],[109,11.3],[107,10.4],[105,8.6],[104.8,9.6],[104.5,10.5],[106,10.9],[107.6,12.3],[107.4,14.4],[107.6,15.4],[106.6,17],[105.8,18.6],[104.5,19.6],[104.4,20.8],[103,20.8]]]],
// SE Asia islands
[G,[[[100.6,6.5],[101.8,5.8],[102.2,6.2],[103.4,4.9],[103.5,2.7],[104.2,1.4],[103.4,1.3],[101.3,2.9],[100.6,4.5],[100.3,6.4]],
 [[109,1.8],[111,1.6],[111.3,2.8],[113,3.2],[114.2,4.6],[115.5,5.3],[116.8,6.9],[117.7,6],[119.2,5.4],[118,4.3],[117.8,2.5],[118.5,1],[117.6,0],[117.5,-0.8],[116.5,-1.5],[116.4,-3.6],[114.6,-4],[113,-3.2],[111.7,-3.4],[110.2,-2.9],[110,-1.5],[109.1,-0.4],[108.9,0.5]],
 [[95.3,5.5],[97.5,5.2],[100.3,2.3],[103.8,0.1],[104.5,-1.8],[106,-3.2],[105.9,-5.8],[104.6,-5.9],[102.5,-4.2],[101,-2.5],[99.1,0],[98.6,1.8],[96.4,3.8]],
 [[105.9,-6.8],[106,-5.9],[108.6,-6.7],[110.5,-6.9],[112.6,-6.9],[114.5,-7.8],[114.4,-8.7],[111,-8.2],[108.3,-7.8],[106.4,-7.4]],
 [[119.4,-5.4],[120.3,-5.5],[120.4,-3.2],[121,-2.6],[122.4,-4.8],[123.2,-4.7],[121.3,-1.9],[123,-0.9],[121,-1.2],[120.2,0.4],[124.6,1.2],[125.1,1.6],[123.5,0.3],[120.5,0.5],[119.8,-0.1],[119.5,-3.5]],
 [[115,-8.4],[116.5,-8.8],[119,-8.6],[121,-8.8],[122.9,-8.3],[120,-8.0],[116,-8]],
 [[123.5,-10.3],[124.9,-9],[125,-9.5],[124,-10.3]],
 [[127.5,1.8],[128.5,1.5],[128,0.5],[128.8,-0.3],[127.8,0]],
 [[128,-3.2],[130.8,-3.4],[130,-3.8],[128.4,-3.6]],
 [[131,-1.3],[132.5,-0.4],[134,-0.9],[134.5,-2.6],[135.5,-3.4],[137.5,-1.5],[141,-2.6],[141,-9.1],[139,-8.1],[138,-8.4],[137.7,-5.3],[135,-4.4],[133,-4],[132,-2.8],[133.5,-2.3],[132,-2]],
 [[120.6,18.5],[122.2,18.5],[122,16.5],[121.4,15.2],[122,14],[124,12.9],[123.5,13.9],[122.5,14],[121,13.6],[120.6,14.3],[120,16],[120.4,17.5]],
 [[122,7],[123.5,7.8],[124.3,8.5],[125.5,9.5],[126.4,8],[126,6.4],[125.2,5.6],[124,6.4],[122.5,7.8]],
 [[122,11.8],[123.8,11],[125,11.3],[125.5,10],[124,9.8],[123,9.2],[122.2,10.5]],
 [[117.2,8.4],[119.5,10.6],[119.7,11.3],[117.5,8.6]]]],
[Y2,[[[124.9,-9.0],[127,-8.3],[125,-8.6]],[[156.5,-6.6],[157.5,-7.3],[157,-7.5]],[[158.5,-7.6],[159.8,-8.5],[159.2,-8.6]],[[160.5,-8.5],[161.5,-9.6],[161,-9.7]],[[159.6,-9.3],[160.8,-9.5],[160,-9.8]],[[161.5,-10.2],[162.3,-10.8],[161.6,-10.6]]]],
[R2,[[[141,-2.6],[144,-3.8],[145.8,-5.5],[147.6,-6.1],[147.2,-7.4],[148.8,-9],[150,-10.4],[147.5,-10.1],[146,-8.1],[144,-7.6],[143.3,-9],[141,-9.1]],
 [[148.3,-5.5],[150,-5.5],[151.5,-4.5],[152.3,-4.2],[151.9,-5.5],[150.5,-6.2],[148.8,-6.1]],
 [[150.8,-2.7],[152.5,-3.8],[153,-4.8],[151.8,-3.2]],
 [[154.6,-5.2],[155.8,-6.5],[155.2,-6.8]]]],
// Australia NZ
[H,[[[113.5,-22],[114,-26],[114.9,-29.5],[115.7,-32],[115,-33.6],[116,-35],[118,-35],[121,-33.8],[124,-33],[126,-32.3],[129,-31.6],[131.3,-31.5],[134,-32.7],[135.6,-34.8],[137.5,-33],[137.8,-35.2],[139.5,-35.6],[140.6,-38],[143.5,-38.8],[146.4,-39.1],[148,-37.8],[150,-37.4],[151,-34],[152.5,-32.2],[153.6,-28.5],[153,-25],[151,-23.2],[149.4,-21.5],[147,-19.2],[146,-17],[145.3,-15],[143.8,-14],[143.5,-12.4],[142.5,-10.7],[141.6,-12.9],[141.7,-15.1],[140.6,-17.6],[139.3,-17.4],[137,-15.9],[135.5,-14.7],[136.7,-12.3],[135.4,-12.2],[132.6,-11.5],[131.3,-12.2],[130,-13],[129.5,-14.9],[127.8,-14.3],[125.7,-14.2],[124.2,-16.3],[122.2,-18.1],[121,-19.5],[118.8,-20.3],[116.7,-20.6],[114.2,-21.8]],
 [[144.7,-40.7],[148.3,-40.9],[148,-43],[146.9,-43.6],[145.3,-42.2]],
 [[172.7,-34.4],[174.5,-36.3],[175.8,-37],[178.5,-37.7],[177.9,-39.2],[176.9,-39.4],[175.2,-41.6],[174.6,-41.2],[175,-39.9],[173.8,-39.2],[174.6,-38],[174.3,-36.5]],
 [[172.6,-40.5],[174.2,-41.3],[173.2,-43],[172.7,-43.8],[171.2,-44.4],[170.6,-45.9],[169.3,-46.6],[166.5,-46],[167,-45],[168.4,-44],[170.5,-42.9],[171.6,-41.7]],
 [[165,-21],[167,-22.2],[166.5,-22.3],[164.2,-20.3]],
 [[177.2,-17.5],[178.6,-17.6],[178.3,-18.3],[177.3,-18.1]]]],
// Africa no data
[H,[[[-8.7,27.7],[-8.7,27.3],[-8.7,26],[-12,26],[-12,23.5],[-13,22.8],[-13.1,21.3],[-17,21.3],[-16.3,23.5],[-14.5,26],[-13.2,27.7]],
 [[-1.7,34],[-2.2,35.1],[0,35.8],[3,36.8],[8.6,36.9],[8.4,35.5],[8,34],[9.5,32],[9.5,30.2],[10,28],[9.5,26.5],[10,24.5],[11.5,24],[7.5,20.9],[5.8,19.4],[4.2,19.1],[3.2,19.1],[1.2,20.8],[-4.8,25],[-8.7,27.3],[-8.7,28.7],[-5,30],[-3.7,31.6],[-1.8,32.5]],
 [[11.5,33.2],[15,32.4],[15.5,31.3],[19,30.3],[20,31.8],[20.2,32.5],[23,32.6],[25,31.6],[25,22],[25,20],[24,20],[24,19.5],[16,23.4],[15,23],[11.9,23.5],[11.5,24],[10,24.5],[9.5,26.5],[10,28],[9.5,30.2],[10,30.2],[10.3,31.7]],
 [[36.5,14.3],[37.4,17.1],[38.5,18],[39.7,15.5],[41.2,14.5],[43.1,12.7],[42.4,12.5],[40,14.5],[37.9,14.9]],
 [[43.2,11.4],[44.5,10.4],[47,11.2],[51,11.8],[51.2,10.5],[50.5,9],[49,6],[47.7,4.2],[46,2.2],[43.5,0],[41.6,-1.7],[41,-0.9],[41,2.8],[41,3.9],[42,4],[43.7,4.9],[45,5],[48,8],[44,9],[42.8,10.6]],
 [[11.7,-5],[13,-4.8],[12.4,-5.8],[12.2,-6],[13,-5.9],[16.2,-5.9],[16.8,-7.2],[17.5,-8],[19,-8],[19.5,-7.1],[21,-7],[21.9,-9.5],[22,-11],[22,-13],[22,-16.2],[23.4,-17.6],[21,-18],[18.5,-17.4],[13.8,-17.3],[11.8,-17.3],[12,-15],[13.6,-12],[13.8,-10.7],[13,-9],[12.8,-7],[12.2,-6]],
 [[21,-18.3],[24.2,-18],[25.3,-17.8],[26,-19.6],[28,-21.5],[29.4,-22.1],[27,-24],[25.5,-25.7],[23,-25.3],[20.8,-26.8],[20,-24.8],[20,-22],[21,-22]],
 [[9.3,1],[11.3,1],[11.3,2.2],[13.3,2.2],[13.2,1.2],[14.5,0.8],[13.9,-0.2],[14.4,-1.3],[14.1,-2.4],[12.5,-2.4],[11.7,-3.5],[11.1,-3.9],[9.6,-2.5],[8.8,-0.8],[9.3,0]],
 [[9.3,1],[9.8,2.2],[11.3,2.2],[11.3,1]],
 [[-5.5,10.4],[-4.5,9.7],[-2.7,9.5],[-2.8,11],[0,11],[1,11],[2.4,11.9],[2,12.7],[0.9,13],[1,14],[0.2,14.9],[-0.5,15.1],[-2,14.5],[-3.5,13.4],[-4.3,13.2],[-5.2,11.4]],
 [[31.9,-25.9],[32.1,-26.8],[31.2,-27.3],[30.8,-26.4]],
 [[-24.5,16.8],[-23.8,15.2],[-23.2,15.3]]]],
// Africa data
[G,[[[-5.9,35.8],[-2.2,35.1],[-1.7,34],[-1.8,32.5],[-3.7,31.6],[-5,30],[-8.7,28.7],[-8.7,27.7],[-13.2,27.7],[-11.5,28.3],[-9.8,29.9],[-9.6,32.5],[-6.8,34]]]],
[G,[[[8.6,36.9],[10.2,37.2],[11,36.8],[10.5,35.5],[11,35.2],[10,34.2],[11.5,33.2],[10.3,31.7],[10,30.2],[9.5,30.2],[9.5,32],[8,34],[8.4,35.5]]]],
[G,[[[25,31.6],[29,30.9],[32,31.3],[34.2,31.3],[34.9,29.5],[34.3,27.8],[33.6,28.3],[32.5,29.8],[33.5,27.2],[35.5,24],[36.9,22],[25,22]]]],
[Y2,[[[24,19.5],[24,20],[25,20],[25,22],[36.9,22],[37.3,21],[38.5,18],[37.4,17.1],[36.5,14.3],[36.2,12.7],[35,11.6],[34.3,10.6],[33.2,10.1],[32.4,11.1],[30,10.3],[27.5,9.6],[26.5,9.5],[25,10.2],[23.5,8.7],[22.9,11.4],[22.5,12.6],[21.9,13],[22.3,14],[22.9,15.5],[23.9,15.6]]]],
[Y1,[[[23.5,8.7],[25,10.2],[26.5,9.5],[27.5,9.6],[30,10.3],[32.4,11.1],[33.2,10.1],[34.3,10.6],[34,8.5],[33,7.8],[35.3,5.5],[34,4.2],[31,3.8],[30,4.5],[28.5,4.3],[27.4,5.2],[25.3,5.3],[24,8.2]]]],
[O,[[[36.5,14.3],[37.9,14.9],[40,14.5],[42.4,12.5],[42.8,11.5],[43.5,11],[42.8,10.6],[44,9],[48,8],[45,5],[43.7,4.9],[42,4],[41,3.9],[39.5,3.5],[38,3.6],[36.8,4.5],[35.3,5.5],[33,7.8],[34,8.5],[34.3,10.6],[35,11.6],[36.2,12.7]]]],
[Y1,[[[41.8,11.7],[42.4,12.5],[43.3,12.4],[43.3,11.3],[42.8,10.9]]]],
[Y2,[[[41,3.9],[41,2.8],[41,-0.9],[41.6,-1.7],[40,-3],[39.2,-4.7],[37.7,-3.1],[34,-1],[34,0],[35,1.9],[34,4.2],[35.3,5.5],[36.8,4.5],[38,3.6],[39.5,3.5]]]],
[O,[[[31,3.8],[34,4.2],[35,1.9],[34,0],[34,-1],[30.5,-1],[29.6,-1.4],[29.8,0.2],[30.9,1.9],[31,2.6],[30.8,3.5]]]],
[O,[[[30.5,-1],[34,-1],[37.7,-3.1],[39.2,-4.7],[38.8,-6.5],[39.5,-8],[39.5,-10.1],[40.4,-10.4],[38,-11.3],[35,-11.5],[34.5,-10],[32.9,-9.4],[31,-8.5],[30.5,-7.5],[29.5,-6],[29.5,-4.5],[30.8,-3.5],[30.5,-2.4]],
 [[29.6,-1.4],[30.5,-1],[30.9,-2.4],[29,-2.8]],[[29,-2.8],[30.5,-2.4],[30.8,-3.5],[29.5,-4.5]]]],
[Y1,[[[40.4,-10.4],[40.6,-15],[38.5,-17.2],[36,-19],[34.8,-19.9],[35.5,-22],[35.5,-24],[33,-25.5],[32.9,-26.8],[32,-26.8],[31.9,-24],[31.3,-22.3],[32.5,-21],[33,-19],[32.8,-16.7],[30.4,-15.8],[30.2,-14.8],[33.2,-14],[33.5,-14.6],[35.1,-15.7],[35.2,-17.1],[35.8,-16.1],[35.5,-14.6],[34.6,-13.5],[34.5,-11.5],[35,-11.5],[38,-11.3]]]],
[R2,[[[33.2,-14],[33.3,-12.5],[33,-9.5],[34.5,-10],[34.5,-11.5],[34.6,-13.5],[35.5,-14.6],[35.8,-16.1],[35.2,-17.1],[35.1,-15.7],[33.5,-14.6]]]],
[Y2,[[[25.3,-17.8],[27,-17.9],[29,-16],[30.4,-15.8],[32.8,-16.7],[33,-19],[32.5,-21],[31.3,-22.3],[29.4,-22.1],[28,-21.5],[26,-19.6]]]],
[R1,[[[22,-13],[24,-13],[24,-11],[25.5,-11.3],[28,-12.5],[29.2,-13.3],[29.8,-12.2],[29,-10],[28.5,-8.5],[30.5,-8.3],[32.9,-9.4],[33.3,-10.6],[33.3,-12.5],[33.2,-14],[30.2,-14.8],[30.4,-15.8],[29,-16],[27,-17.9],[25.3,-17.8],[23.4,-17.6],[22,-16.2]]]],
[R1,[[[12.2,-6],[12.4,-5.8],[13,-4.8],[15,-4.4],[16.2,-2.2],[17.6,-0.7],[18,2.2],[18.6,4.2],[19.6,5.1],[22.5,4.2],[24.4,5.1],[25.3,5.3],[27.4,5.2],[28.5,4.3],[30,4.5],[30.8,3.5],[31,2.6],[30.9,1.9],[29.8,0.2],[29.6,-1.4],[29,-2.8],[29.5,-4.5],[29.5,-6],[30.5,-7.5],[30.5,-8.3],[28.5,-8.5],[29,-10],[29.8,-12.2],[29.2,-13.3],[28,-12.5],[25.5,-11.3],[24,-11],[24,-13],[22,-13],[22,-11],[21.9,-9.5],[21,-7],[19.5,-7.1],[19,-8],[17.5,-8],[16.8,-7.2],[16.2,-5.9],[13,-5.9]]]],
[R1,[[[11.1,-3.9],[11.7,-3.5],[12.5,-2.4],[14.1,-2.4],[14.4,-1.3],[13.9,-0.2],[14.5,0.8],[13.2,1.2],[13.3,2.2],[14.5,2.2],[16,2],[16.5,3.5],[18.6,3.5],[18,2.2],[17.6,-0.7],[16.2,-2.2],[15,-4.4],[13,-4.8],[11.7,-5]]]],
[G,[[[11.8,-17.3],[13.8,-17.3],[18.5,-17.4],[21,-18],[23.4,-17.6],[25.3,-17.8],[24.2,-18],[21,-18.3],[21,-22],[20,-22],[20,-24.8],[20,-28.4],[18,-28.9],[16.4,-28.6],[15.2,-27],[14.5,-23],[13.2,-20.5],[12,-18.2]]]],
[O,[[[16.4,-28.6],[18,-28.9],[20,-28.4],[20,-24.8],[20.8,-26.8],[23,-25.3],[25.5,-25.7],[27,-24],[29.4,-22.1],[31.3,-22.3],[31.9,-24],[32,-26.8],[32.9,-26.8],[32.4,-28.5],[31,-30],[29.5,-31.5],[27,-33.5],[25.5,-34],[22.5,-33.9],[20,-34.8],[18.4,-34.2],[18.2,-32],[17,-29.8]],
 [[27,-29.6],[28.5,-28.6],[29.4,-29.4],[28.2,-30.6],[27.4,-30.3]]]],
[O,[[[49.3,-12],[50.4,-15.5],[49.8,-17],[48.7,-20.5],[47.4,-24.9],[45.2,-25.5],[44,-24.5],[43.3,-21.8],[44.4,-19.5],[44,-17],[46.3,-15.7],[48,-13.5]]]],
[O,[[[8.5,4.5],[9.8,2.2],[11.3,2.2],[13.3,2.2],[14.5,2.2],[16,2],[15.5,3.5],[14.6,4.4],[14.5,6],[15.5,7.5],[14.2,9.5],[15.5,10],[14.9,11.4],[14.4,12.9],[13.7,12.4],[14,10.9],[13.2,9],[12.2,8.3],[11,6.5],[9.8,6.7],[8.6,5.2]]]],
[R2,[[[14.5,6],[14.6,4.4],[15.5,3.5],[16,2],[16.5,3.5],[18.6,3.5],[18.6,4.2],[19.6,5.1],[22.5,4.2],[24.4,5.1],[25.3,5.3],[27.4,5.2],[25.3,7],[24,8.2],[23.5,8.7],[22.9,11],[21.7,10.6],[20,9.1],[18.6,8.9],[16.7,7.5],[15.5,7.5]]]],
[Y2,[[[13.7,12.4],[14.4,12.9],[14.9,11.4],[15.5,10],[14.2,9.5],[15.5,7.5],[16.7,7.5],[18.6,8.9],[20,9.1],[21.7,10.6],[22.9,11],[22.5,12.6],[21.9,13],[22.3,14],[22.9,15.5],[23.9,15.6],[24,19.5],[16,23.4],[15,23],[15.5,20.5],[15.5,18],[13.5,14.5],[13.7,13.5]]]],
[R2,[[[0.2,14.9],[1.3,15.3],[3.6,15.6],[4.2,16.9],[4.2,19.1],[5.8,19.4],[7.5,20.9],[11.5,24],[11.9,23.5],[15,23],[15.5,20.5],[15.5,18],[13.5,14.5],[13.7,13.5],[12.3,13.4],[10.7,13.4],[9,12.8],[7,12.9],[5.6,13.8],[4,13.5],[3.6,11.7],[2.4,11.9],[2,12.7],[0.9,13],[1,14]]]],
[R2,[[[2.7,6.3],[4.4,6.4],[5.9,4.3],[7.1,4.4],[8.5,4.5],[8.6,5.2],[9.8,6.7],[11,6.5],[12.2,8.3],[13.2,9],[14,10.9],[13.7,12.4],[13.7,13.5],[12.3,13.4],[10.7,13.4],[9,12.8],[7,12.9],[5.6,13.8],[4,13.5],[3.6,11.7],[2.8,9]]]],
[O,[[[1.6,6.2],[2.7,6.3],[2.8,9],[3.6,11.7],[2.4,11.9],[1,11],[1.6,9]]]],
[Y2,[[[0.2,6],[0.5,8],[0,11],[1,11],[1.6,9],[1.6,6.2]]]],
[O,[[[-2.8,5],[-3.2,6.2],[-2.5,8.2],[-2.7,9.5],[-2.8,11],[0,11],[0.5,8],[0.2,6],[-1,5]]]],
[Y2,[[[-8.3,7.6],[-8,9],[-7.8,10.3],[-6.2,10.5],[-5.5,10.4],[-4.5,9.7],[-2.7,9.5],[-2.5,8.2],[-3.2,6.2],[-2.8,5],[-5,5.2],[-7.5,4.4],[-7.5,5.5],[-8.5,6.5]]]],
[Y2,[[[-10.5,7],[-10.3,8.5],[-9.5,8.5],[-8.3,7.6],[-8.5,6.5],[-7.5,5.5],[-7.5,4.4],[-9.3,5.3],[-11.5,6.9]]]],
[Y2,[[[-13.3,9.2],[-12.3,9.9],[-11.2,10],[-10.3,8.5],[-10.5,7],[-11.5,6.9],[-13,7.8]]]],
[Y2,[[[-13.7,12.6],[-11.4,12.4],[-9.5,12.3],[-8.6,11.9],[-8.3,11],[-7.8,10.3],[-8,9],[-8.3,7.6],[-9.5,8.5],[-10.3,8.5],[-11.2,10],[-12.3,9.9],[-13.3,9.2],[-15.5,11],[-13.7,11.5]]]],
[Y2,[[[-16.7,12.4],[-13.7,12.6],[-13.7,11.5],[-15.5,11]]]],
[Y2,[[[-12.2,14.6],[-11.5,15.5],[-9.4,15.4],[-5.5,15.5],[-6.5,25],[-4.8,25],[1.2,20.8],[3.2,19.1],[4.2,19.1],[4.2,16.9],[3.6,15.6],[1.3,15.3],[0.2,14.9],[-0.5,15.1],[-2,14.5],[-3.5,13.4],[-4.3,13.2],[-5.2,11.4],[-5.5,10.4],[-6.2,10.5],[-7.8,10.3],[-8.3,11],[-8.6,11.9],[-9.5,12.3],[-11.4,12.4],[-11.7,13.4]]]],
[O,[[[-17,21.3],[-13.1,21.3],[-13,22.8],[-12,23.5],[-12,26],[-8.7,26],[-8.7,27.3],[-4.8,25],[-6.5,25],[-5.5,15.5],[-9.4,15.4],[-11.5,15.5],[-12.2,14.6],[-14,16.6],[-16.5,16.1],[-16,18],[-16.3,20]]]],
[O,[[[-16.5,16.1],[-14,16.6],[-12.2,14.6],[-11.7,13.4],[-11.4,12.4],[-13.7,12.6],[-16.7,12.4],[-16.8,13.6],[-17.5,14.7]]]],
[R3,[[[-16.8,13.6],[-13.8,13.7],[-13.8,13.3],[-16.7,13.2]]]],
// Middle East data
[R1,[[[38.8,33.4],[41,34.4],[41.3,36.4],[42.3,37.1],[44.3,37],[45,36.5],[46,35.1],[45.4,34],[46,33],[47.7,31.5],[48,30.5],[48.6,30],[47.7,30],[47.1,29.9],[46.5,29.1],[44.7,29.2],[42,31.1],[40,32],[39,32.3]]]],
[R2,[[[35.1,33.1],[35.9,34.7],[36.6,34.2],[35.9,33.4],[35.6,33.1]]]],
[G,[[[35,29.5],[35.5,31.5],[35.6,32.7],[36.8,32.3],[38.8,33.4],[39,32.3],[37,31.5],[38,30.5],[37.5,29.9],[36.5,29.5]]]],
[G,[[[34.6,28.1],[35,29.5],[36.5,29.5],[37.5,29.9],[38,30.5],[37,31.5],[39,32.3],[40,32],[42,31.1],[44.7,29.2],[46.5,29.1],[47.5,28.5],[48.5,28],[49.5,26.7],[50.2,25.7],[50.8,24.8],[51.6,24.2],[52,23],[55.2,22.7],[55.7,22],[55,20],[52,19],[49,18.6],[48.2,18.2],[47.5,17.1],[46.7,17.3],[44,17.4],[43.3,17.6],[42.8,16.4],[42.3,17.5],[41.2,19.2],[40.2,20.3],[39.1,21.5],[38.5,23.6],[37.2,25.1],[35.2,28]]]],
[R2,[[[42.8,16.4],[43.3,17.6],[44,17.4],[46.7,17.3],[47.5,17.1],[48.2,18.2],[49,18.6],[52,19],[53.1,16.7],[52.2,15.9],[49.6,14.7],[48.7,14],[45.6,13.3],[44,12.6],[43.5,12.7],[42.8,14.8]]]]
];
var g=document.getElementById('map');var NS='http://www.w3.org/2000/svg';
D.forEach(function(c){try{var d='';c[1].forEach(function(r){if(!r||!r.length||typeof r[0]==='number')return;d+='M'+r.map(function(p){var q=P(p[0],p[1]);return q[0].toFixed(1)+','+q[1].toFixed(1);}).join('L')+'Z';});
if(!d)return;
var e=document.createElementNS(NS,'path');e.setAttribute('d',d);
if(c[0]==='H'){e.setAttribute('fill','url(#h)');e.setAttribute('stroke','#cfcfcf');e.setAttribute('stroke-width','0.5');}
else{e.setAttribute('fill',c[0]);e.setAttribute('stroke','#8c8c8c');e.setAttribute('stroke-width','0.45');}
e.setAttribute('stroke-linejoin','round');g.appendChild(e);}catch(err){}});
})();
</script>
</body></html>
